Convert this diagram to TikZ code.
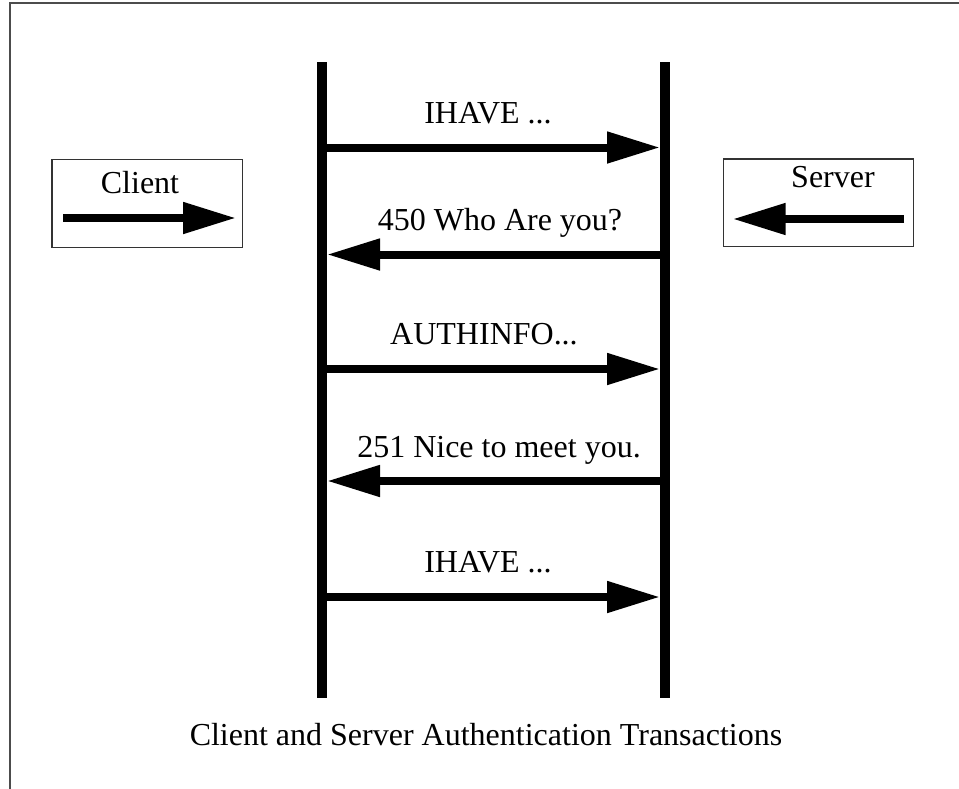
\documentclass[tikz,border=0pt]{standalone}
\usepackage{fontspec}
\setmainfont{Liberation Serif}
\usetikzlibrary{arrows.meta}
\begin{document}
\begin{tikzpicture}[x=1pt,y=-1pt,
  lifeline/.style={line width=10pt},
  msg/.style={line width=8pt,-{Triangle[length=53pt,width=30pt]}},
  lbl/.style={anchor=base,inner sep=0pt,font=\fontsize{32}{38}\selectfont},
  boxframe/.style={draw=black!80,line width=1.5pt}]
\useasboundingbox (0,0) rectangle (959,788);
\fill[white] (0,0) rectangle (959,788);
\draw[draw=black!70,line width=2pt] (9.8,2.8) rectangle (1000,900);
% lifelines
\coordinate (LT) at (321.5,62);
\coordinate (LB) at (321.5,698);
\coordinate (RT) at (665,62);
\coordinate (RB) at (665,698);
\draw[lifeline] (LT) -- (LB);
\draw[lifeline] (RT) -- (RB);
% message points
\foreach \i/\y in {1/147.5,2/254.5,3/369,4/481,5/597}{
  \coordinate (L\i) at (321.5,\y);
  \coordinate (R\i) at (665,\y);
}
\draw[msg,shorten >=5pt] (L1) -- (R1);
\draw[msg,shorten >=5.5pt] (R2) -- (L2);
\draw[msg,shorten >=5pt] (L3) -- (R3);
\draw[msg,shorten >=5.5pt] (R4) -- (L4);
\draw[msg,shorten >=5pt] (L5) -- (R5);
\node[lbl] (m1) at (488,123) {IHAVE ...};
\node[lbl] (m2) at (500,230) {450 Who Are you?};
\node[lbl] (m3) at (484,344) {AUTHINFO...};
\node[lbl] (m4) at (499,457) {251 Nice to meet you.};
\node[lbl] (m5) at (488,572) {IHAVE ...};
% client box
\node[boxframe,minimum width=190.5pt,minimum height=88pt,inner sep=0pt] (client) at (147,203.3) {};
\node[lbl] (clientlbl) at (140,193) {Client};
\coordinate (ca) at (63,218);
\coordinate (cb) at (236,218);
\draw[msg] (ca) -- (cb);
% server box
\node[boxframe,minimum width=190pt,minimum height=87.7pt,inner sep=0pt] (server) at (818.3,202.8) {};
\node[lbl] (serverlbl) at (833,187) {Server};
\coordinate (sa) at (904,219);
\coordinate (sb) at (732.7,219);
\draw[msg] (sa) -- (sb);
% caption
\node[lbl] (caption) at (486,745) {Client and Server Authentication Transactions};
\end{tikzpicture}
\end{document}
